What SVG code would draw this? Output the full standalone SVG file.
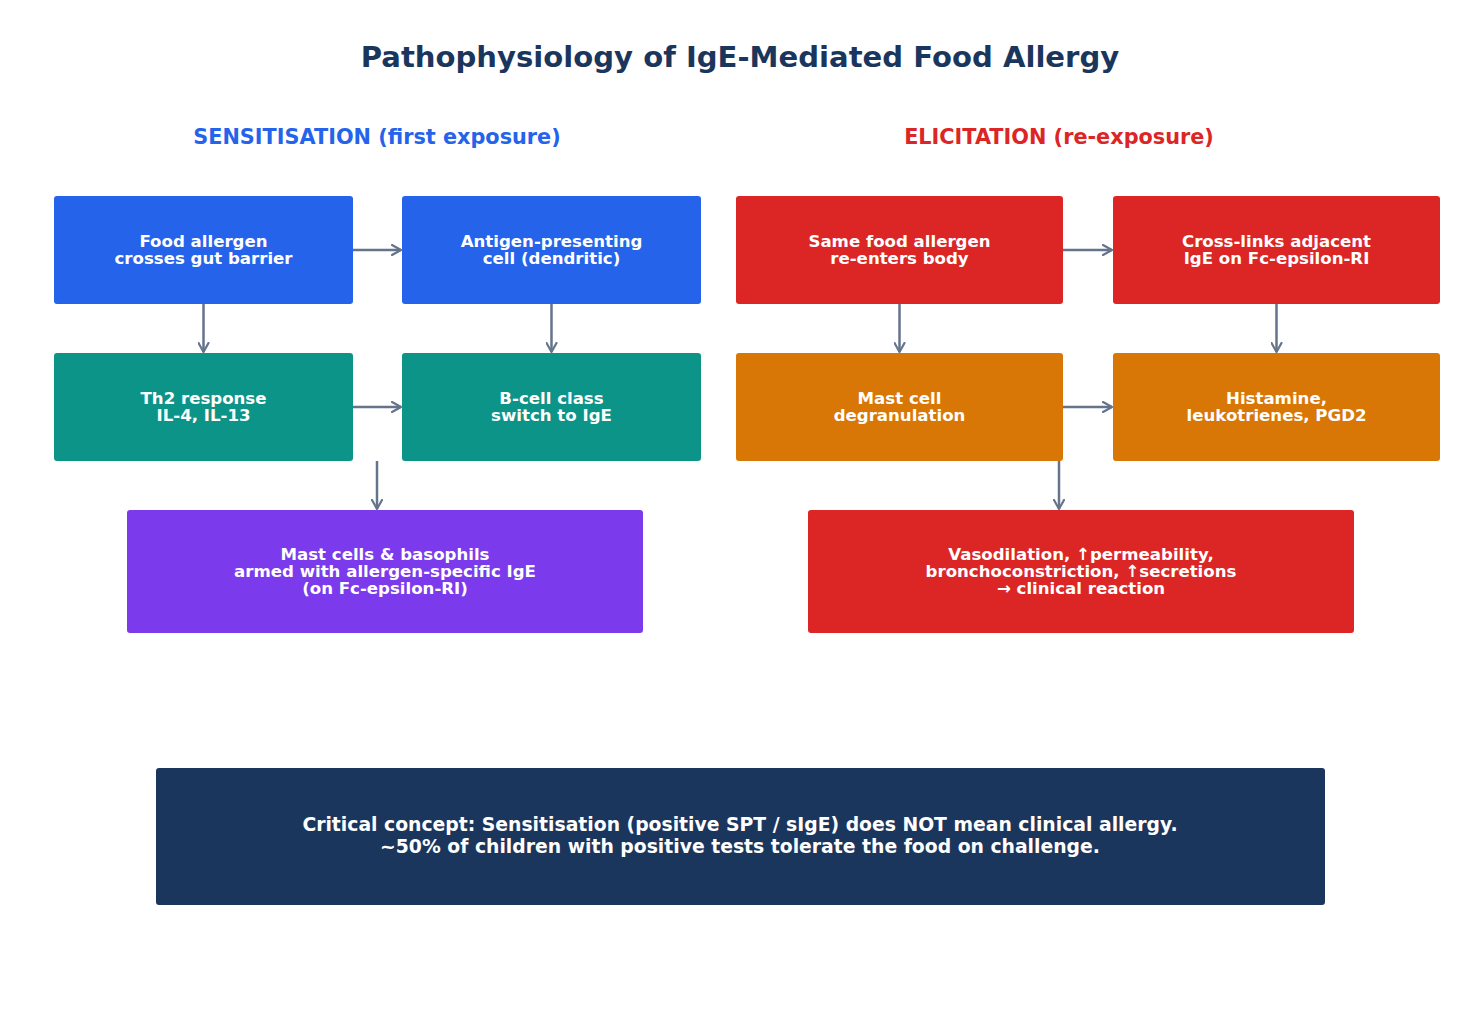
<svg xmlns="http://www.w3.org/2000/svg" width="1480" height="1030" viewBox="0 0 1480 1030">
<defs>
<marker id="ah" viewBox="0 0 12 12" refX="10" refY="6" markerWidth="12" markerHeight="12" markerUnits="userSpaceOnUse" orient="auto">
<path d="M1,1 L10,6 L1,11" fill="none" stroke="#64748b" stroke-width="2.2" stroke-linecap="round" stroke-linejoin="round"/>
</marker>
</defs>
<style>
text{font-family:"DejaVu Sans","Liberation Sans",sans-serif;font-weight:bold;text-anchor:middle}
.t{fill:#1b365d;font-size:29.1px}
.h{font-size:20.8px}
.b{fill:#ffffff;font-size:16.6px}
.n{fill:#ffffff;font-size:18.8px}
.c line{stroke:#64748b;stroke-width:2.5;marker-end:url(#ah)}
</style>
<rect width="1480" height="1030" fill="#ffffff"/>
<text class="t" x="740" y="66.5">Pathophysiology of IgE-Mediated Food Allergy</text>
<text class="h" x="377" y="144" fill="#2563eb">SENSITISATION (first exposure)</text>
<text class="h" x="1059" y="144" fill="#dc2626">ELICITATION (re-exposure)</text>

<g id="n1"><rect x="54" y="196" width="299" height="108" rx="3" fill="#2563eb"/><text class="b" x="203.5" y="247">Food allergen</text><text class="b" x="203.5" y="264">crosses gut barrier</text></g>
<g id="n2"><rect x="402" y="196" width="299" height="108" rx="3" fill="#2563eb"/><text class="b" x="551.5" y="247">Antigen-presenting</text><text class="b" x="551.5" y="264">cell (dendritic)</text></g>
<g id="n3"><rect x="54" y="353" width="299" height="108" rx="3" fill="#0d9488"/><text class="b" x="203.5" y="404">Th2 response</text><text class="b" x="203.5" y="421">IL-4, IL-13</text></g>
<g id="n4"><rect x="402" y="353" width="299" height="108" rx="3" fill="#0d9488"/><text class="b" x="551.5" y="404">B-cell class</text><text class="b" x="551.5" y="421">switch to IgE</text></g>
<g id="n5"><rect x="127" y="510" width="516" height="123" rx="3" fill="#7c3aed"/><text class="b" x="385" y="560">Mast cells &amp; basophils</text><text class="b" x="385" y="577">armed with allergen-specific IgE</text><text class="b" x="385" y="594">(on Fc-epsilon-RI)</text></g>

<g id="n6"><rect x="736" y="196" width="327" height="108" rx="3" fill="#dc2626"/><text class="b" x="899.5" y="247">Same food allergen</text><text class="b" x="899.5" y="264">re-enters body</text></g>
<g id="n7"><rect x="1113" y="196" width="327" height="108" rx="3" fill="#dc2626"/><text class="b" x="1276.5" y="247">Cross-links adjacent</text><text class="b" x="1276.5" y="264">IgE on Fc-epsilon-RI</text></g>
<g id="n8"><rect x="736" y="353" width="327" height="108" rx="3" fill="#d97706"/><text class="b" x="899.5" y="404">Mast cell</text><text class="b" x="899.5" y="421">degranulation</text></g>
<g id="n9"><rect x="1113" y="353" width="327" height="108" rx="3" fill="#d97706"/><text class="b" x="1276.5" y="404">Histamine,</text><text class="b" x="1276.5" y="421">leukotrienes, PGD2</text></g>
<g id="n10"><rect x="808" y="510" width="546" height="123" rx="3" fill="#dc2626"/><text class="b" x="1081" y="560">Vasodilation, ↑permeability,</text><text class="b" x="1081" y="577">bronchoconstriction, ↑secretions</text><text class="b" x="1081" y="594">→ clinical reaction</text></g>

<g id="n11"><rect x="156" y="768" width="1169" height="137" rx="3" fill="#1b365d"/><text class="n" x="740" y="831">Critical concept: Sensitisation (positive SPT / sIgE) does NOT mean clinical allergy.</text><text class="n" x="740" y="853">~50% of children with positive tests tolerate the food on challenge.</text></g>

<g id="connectors" class="c">
<line x1="353" y1="250" x2="401" y2="250"/>
<line x1="203.5" y1="304" x2="203.5" y2="352"/>
<line x1="551.5" y1="304" x2="551.5" y2="352"/>
<line x1="353" y1="407" x2="401" y2="407"/>
<line x1="377" y1="461" x2="377" y2="509"/>
<line x1="1063" y1="250" x2="1112" y2="250"/>
<line x1="899.5" y1="304" x2="899.5" y2="352"/>
<line x1="1276.5" y1="304" x2="1276.5" y2="352"/>
<line x1="1063" y1="407" x2="1112" y2="407"/>
<line x1="1059" y1="461" x2="1059" y2="509"/>
</g>
</svg>
